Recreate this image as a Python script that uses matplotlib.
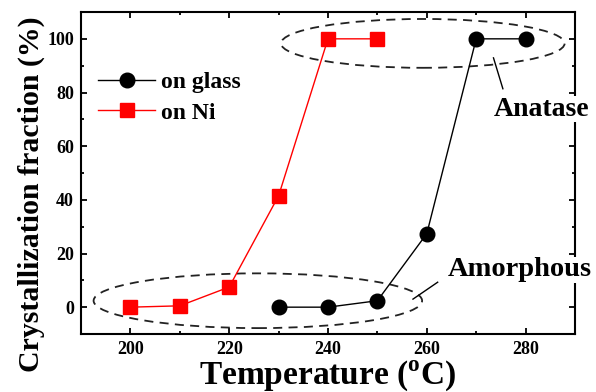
import matplotlib
matplotlib.use("Agg")
import matplotlib.pyplot as plt
from matplotlib.patches import Ellipse
from matplotlib.ticker import MultipleLocator

plt.rcParams['font.family'] = 'Liberation Serif'
plt.rcParams['font.weight'] = 'bold'
plt.rcParams['mathtext.fontset'] = 'custom'
plt.rcParams['mathtext.rm'] = 'Liberation Serif:bold'
plt.rcParams['mathtext.bf'] = 'Liberation Serif:bold'

# data
temp_glass = [230, 240, 250, 260, 270, 280]
frac_glass = [0, 0, 2.4, 27.4, 100, 100]
temp_ni = [200, 210, 220, 230, 240, 250]
frac_ni = [0, 0.5, 7.5, 41.5, 100, 100]

fig = plt.figure(figsize=(5.96, 3.92), dpi=100)
ax = fig.add_axes([81 / 596, 1 - 334 / 392, 494 / 596, 322 / 392])

ax.plot(temp_glass, frac_glass, '-o', color='black', lw=1, ms=10.5,
        label='on glass', zorder=3)
ax.plot(temp_ni, frac_ni, '-s', color='red', lw=1, ms=10, mec='red',
        label='on Ni', zorder=3)

# dashed ellipses around the two groups
ax.add_patch(Ellipse((259.2, 98.3), 57.4, 18.2, fill=False, ls=(0, (5, 3.5)),
                     lw=1.3, ec='#222222', zorder=2))
ax.add_patch(Ellipse((225.8, 2.4), 66.5, 20.4, fill=False, ls=(0, (5, 3.5)),
                     lw=1.3, ec='#222222', zorder=2))

# annotation pointers
ax.plot([273.5, 275.4], [92.9, 81.4], color='black', lw=1, zorder=2)
ax.plot([257.2, 262.2], [3.0, 9.3], color='black', lw=1, zorder=2)

ax.text(283.2, 73.8, 'Anatase', fontsize=20, fontweight='bold', ha='center',
        va='center', clip_on=False, zorder=5,
        bbox=dict(facecolor='white', edgecolor='none', pad=0.5))
ax.text(278.8, 14.0, 'Amorphous', fontsize=20.5, fontweight='bold', ha='center',
        va='center', clip_on=False, zorder=5,
        bbox=dict(facecolor='white', edgecolor='none', pad=0.5))

ax.set_xlim(190, 290)
ax.set_ylim(-10, 110)
ax.xaxis.set_major_locator(MultipleLocator(20))
ax.xaxis.set_minor_locator(MultipleLocator(10))
ax.yaxis.set_major_locator(MultipleLocator(20))
ax.yaxis.set_minor_locator(MultipleLocator(10))
ax.tick_params(which='both', direction='in', top=True, right=True, width=1.3)
ax.tick_params(which='major', length=4.5, labelsize=13, pad=5)
ax.tick_params(which='minor', length=2.5)
for s in ax.spines.values():
    s.set_linewidth(1.5)
for lbl in ax.get_xticklabels() + ax.get_yticklabels():
    lbl.set_fontweight('bold')

ax.set_xlabel('Temperature ($^{\\rm o}$C)', fontsize=24, fontweight='bold',
              labelpad=0)
ax.set_ylabel('Crystallization fraction (%)', fontsize=21.5, fontweight='bold')
ax.yaxis.set_label_coords(-0.073, 0.435)

leg = ax.legend(loc='upper left', bbox_to_anchor=(0.035, 0.815), frameon=False,
                fontsize=17, handlelength=2.4, handletextpad=0.25,
                labelspacing=0.38, borderaxespad=0, borderpad=0)

fig.savefig('out.png', dpi=100)
